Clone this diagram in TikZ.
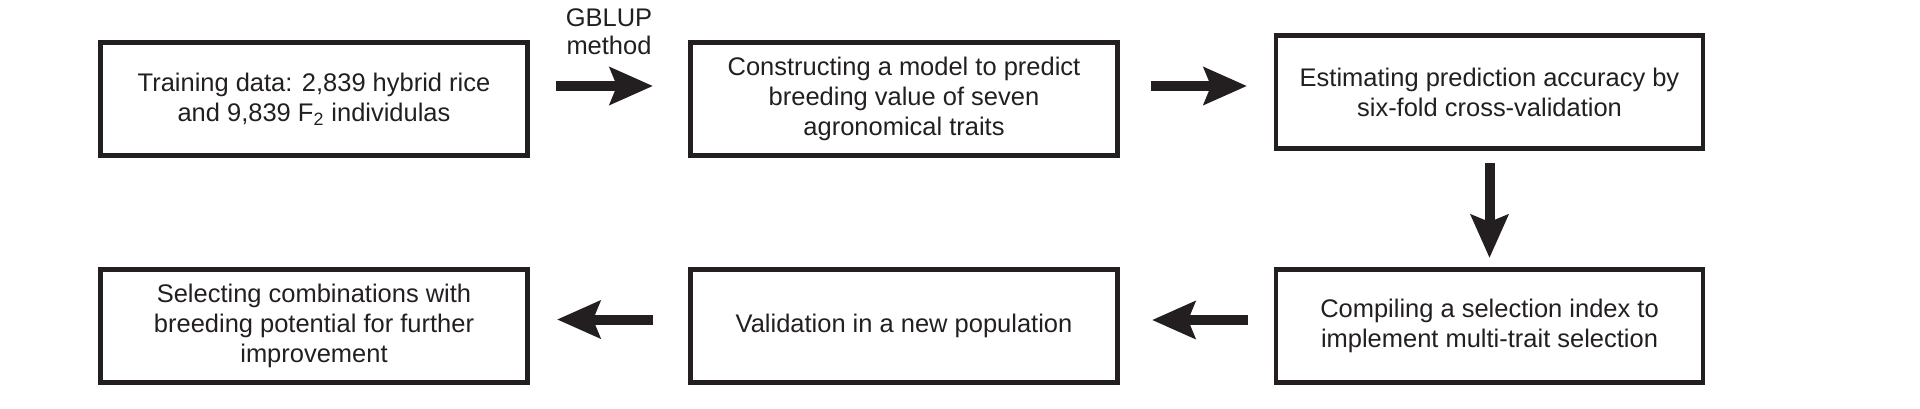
\documentclass[tikz,border=0pt]{standalone}
\usepackage{fontspec}
\setmainfont{Liberation Sans}
\usetikzlibrary{positioning, arrows.meta}
\definecolor{ink}{HTML}{231F20}
\tikzset{
        stage/.style={rectangle, draw=ink, line width=2.3pt, minimum width=8.54cm, minimum height=2.26cm,
                inner sep=0pt, align=center, text=ink, font=\fontsize{14.5}{17}\selectfont},
        fat/.style={color=ink, line width=0.2cm, -{Stealth[length=0.86cm, width=0.74cm, inset=0.14cm]}}
}

\begin{document}
\begin{tikzpicture}[node distance=11.8cm, on grid, auto]
        \useasboundingbox (0,0) rectangle (38.4,8.16);
        \node[stage] (s1) at (6.28,6.18) {Training data: 2,839 hybrid rice\\and 9,839 F\textsubscript{2} individulas};
        \node[stage] (s2) [right=of s1] {Constructing a model to predict\\breeding value of seven\\agronomical traits};
        \node[stage] (s3) [right=11.71cm of s2, yshift=0.14cm] {Estimating prediction accuracy by\\six-fold cross-validation};
        \node[stage] (s4) [below=4.68cm of s3] {Compiling a selection index to\\implement multi-trait selection};
        \node[stage] (s5) [left=11.71cm of s4] {Validation in a new population};
        \node[stage] (s6) [left=of s5] {Selecting combinations with\\breeding potential for further\\improvement};

        \path[fat]
          ([yshift=0.26cm]s1.east) edge[shorten <=0.53cm, shorten >=0.71cm]
              node[above=0.52cm, inner sep=0pt, align=center, text=ink, font=\fontsize{14.5}{16}\selectfont] {GBLUP\\method} ([yshift=0.26cm]s2.west)
          ([yshift=0.26cm]s2.east) edge[shorten <=0.63cm, shorten >=0.54cm] ([yshift=0.12cm]s3.west)
          (s3.south) edge[shorten <=0.25cm, shorten >=0.19cm] (s4.north)
          ([yshift=0.12cm]s4.west) edge[shorten <=0.52cm, shorten >=0.65cm] ([yshift=0.12cm]s5.east)
          ([yshift=0.13cm]s5.west) edge[shorten <=0.71cm, shorten >=0.55cm] ([yshift=0.13cm]s6.east);
\end{tikzpicture}
\end{document}
